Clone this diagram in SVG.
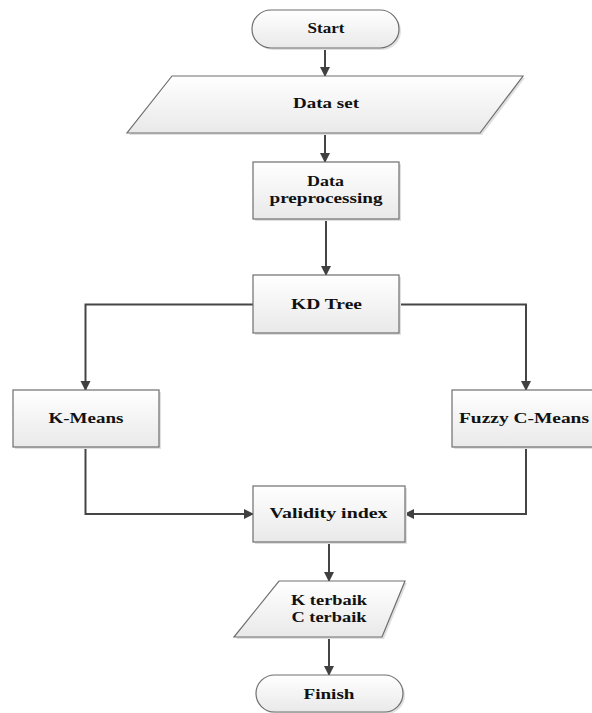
<svg xmlns="http://www.w3.org/2000/svg" width="592" height="713" viewBox="0 0 592 713">
<defs>
<linearGradient id="g" x1="0" y1="0" x2="0" y2="1">
<stop offset="0" stop-color="#ffffff"/>
<stop offset="1" stop-color="#e9e9e9"/>
</linearGradient>
<marker id="ah" markerUnits="userSpaceOnUse" markerWidth="12" markerHeight="12" refX="9" refY="5" orient="auto">
<path d="M0,0 L10,5 L0,10 z" fill="#404040"/>
</marker>
<style>
.shape{fill:url(#g);stroke:#6e6e6e;stroke-width:1.2}
.shadow{fill:#e0e0e0;stroke:none}
.t{font-family:"Liberation Serif","Times New Roman",serif;font-size:15px;font-weight:bold;fill:#111111;text-anchor:middle}
.c{fill:none;stroke:#454545;stroke-width:2;marker-end:url(#ah)}
</style>
</defs>
<rect width="592" height="713" fill="#ffffff"/>

<g id="connectors">
<path class="c" d="M325,48 L325,76"/>
<path class="c" d="M325,133 L325,162"/>
<path class="c" d="M326,219 L326,275"/>
<path class="c" d="M253,304.5 L85.5,304.5 L85.5,390"/>
<path class="c" d="M399,304.5 L526,304.5 L526,390"/>
<path class="c" d="M85.5,447 L85.5,514 L253,514"/>
<path class="c" d="M526,447 L526,514 L405,514"/>
<path class="c" d="M329,542 L329,581"/>
<path class="c" d="M329,637 L329,675"/>
</g>

<g id="start">
<rect class="shadow" x="254" y="12" width="147" height="38" rx="19"/>
<rect class="shape" x="252" y="10" width="147" height="38" rx="19"/>
<text class="t" x="326" y="33" textLength="37" lengthAdjust="spacingAndGlyphs">Start</text>
</g>

<g id="dataset">
<polygon class="shadow" points="174,78 525,78 482,135 129,135"/>
<polygon class="shape" points="172,76 523,76 480,133 127,133"/>
<text class="t" x="326" y="108" textLength="66" lengthAdjust="spacingAndGlyphs">Data set</text>
</g>

<g id="preprocessing">
<rect class="shadow" x="255" y="164" width="146" height="57"/>
<rect class="shape" x="253" y="162" width="146" height="57"/>
<text class="t" x="325.5" y="186" textLength="37" lengthAdjust="spacingAndGlyphs">Data</text>
<text class="t" x="326" y="203" textLength="113" lengthAdjust="spacingAndGlyphs">preprocessing</text>
</g>

<g id="kdtree">
<rect class="shadow" x="255" y="277" width="146" height="58"/>
<rect class="shape" x="253" y="275" width="146" height="58"/>
<text class="t" x="326.5" y="309" textLength="71" lengthAdjust="spacingAndGlyphs">KD Tree</text>
</g>

<g id="kmeans">
<rect class="shadow" x="15" y="392" width="146" height="57"/>
<rect class="shape" x="13" y="390" width="146" height="57"/>
<text class="t" x="86" y="423" textLength="75" lengthAdjust="spacingAndGlyphs">K-Means</text>
</g>

<g id="fuzzy">
<rect class="shadow" x="454" y="392" width="146" height="57"/>
<rect class="shape" x="452" y="390" width="146" height="57"/>
<text class="t" x="524" y="423" textLength="130" lengthAdjust="spacingAndGlyphs">Fuzzy C-Means</text>
</g>

<g id="validity">
<rect class="shadow" x="255" y="488" width="152" height="56"/>
<rect class="shape" x="253" y="486" width="152" height="56"/>
<text class="t" x="328.5" y="518" textLength="118" lengthAdjust="spacingAndGlyphs">Validity index</text>
</g>

<g id="terbaik">
<polygon class="shadow" points="281,583 407,583 384,639 236,639"/>
<polygon class="shape" points="279,581 405,581 382,637 234,637"/>
<text class="t" x="329" y="605" textLength="76" lengthAdjust="spacingAndGlyphs">K terbaik</text>
<text class="t" x="329" y="622" textLength="75" lengthAdjust="spacingAndGlyphs">C terbaik</text>
</g>

<g id="finish">
<rect class="shadow" x="258" y="677" width="147" height="37" rx="18.5"/>
<rect class="shape" x="256" y="675" width="147" height="37" rx="18.5"/>
<text class="t" x="329" y="699" textLength="51" lengthAdjust="spacingAndGlyphs">Finish</text>
</g>
</svg>
